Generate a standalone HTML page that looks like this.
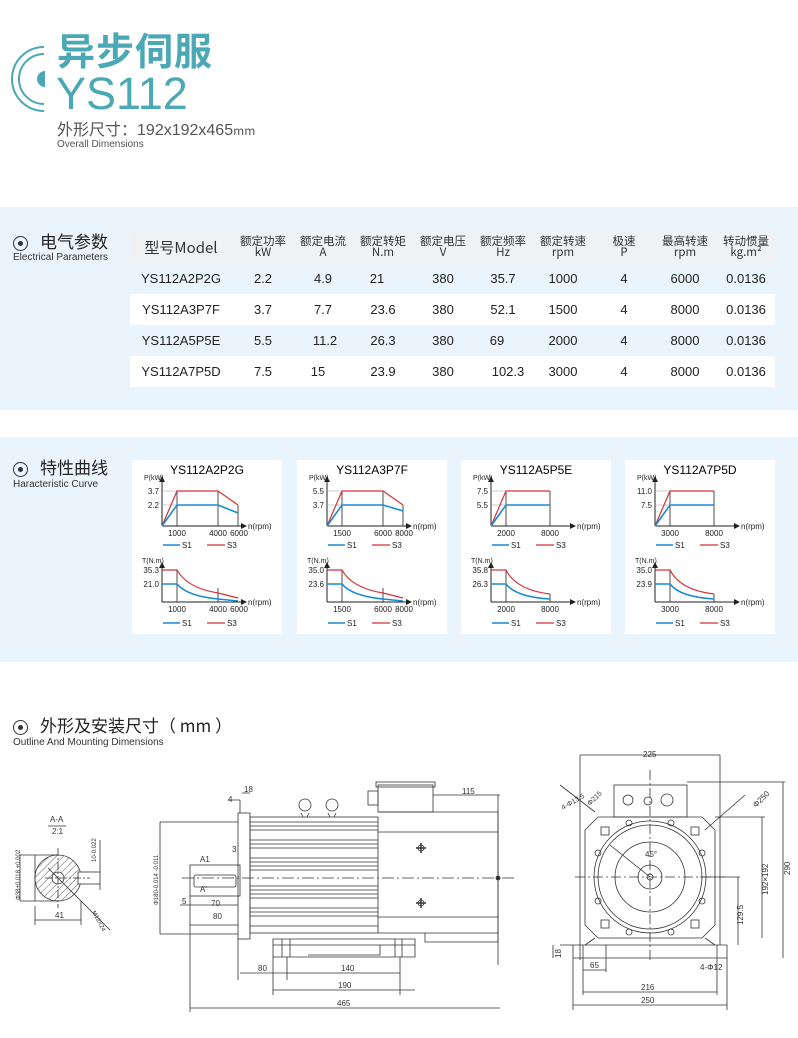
<!DOCTYPE html>
<html><head><meta charset="utf-8">
<style>
*{margin:0;padding:0;box-sizing:border-box}
body{width:798px;height:1038px;background:#fff;position:relative;overflow:hidden;font-family:"Liberation Sans","Noto Sans CJK SC",sans-serif;color:#222}
.a{position:absolute;white-space:nowrap}
.band{position:absolute;left:0;width:798px;background:#e9f4fc}
.cjk{font-family:"Noto Sans CJK SC","Liberation Sans",sans-serif}
.row{position:absolute;left:130px;width:645px;height:31px;font-size:13px;color:#222}
.row span,.hd span{position:absolute;text-align:center;transform:translateX(-50%);white-space:nowrap}
.hd{position:absolute;left:130px;top:232px;width:645px;height:31px;background:#eff1f3;font-size:11.5px;line-height:11px;color:#333}
.card{position:absolute;top:460px;width:150px;height:174px;background:#fff}
.icon{position:absolute;width:15px;height:15px;border:1.6px solid #333;border-radius:50%}
.icon:after{content:"";position:absolute;left:3.5px;top:3.5px;width:5px;height:5px;border-radius:50%;background:#333}
</style></head><body>

<!-- title -->
<svg class="a" style="left:0;top:0" width="60" height="120"><path d="M44 47 A32 32 0 0 0 44 111" fill="none" stroke="#4ba8b5" stroke-width="2"/><path d="M44 54 A25 25 0 0 0 44 104" fill="none" stroke="#4ba8b5" stroke-width="2"/><path d="M45 71 A8 8 0 0 0 45 87 Z" fill="#4ba8b5"/></svg>
<div class="a cjk" style="left:57px;top:25px;font-size:38px;font-weight:bold;color:#4ba8b5;letter-spacing:1px;line-height:48px">异步伺服</div>
<div class="a" style="left:56px;top:70px;font-size:45px;color:#4ba8b5;line-height:48px">YS112</div>
<div class="a cjk" style="left:57px;top:117px;font-size:16px;color:#555;line-height:22px">外形尺寸：<span style="font-family:'Liberation Sans'">192x192x465</span><span style="font-size:12px">mm</span></div>
<div class="a" style="left:57px;top:139px;font-size:10px;color:#555">Overall Dimensions</div>

<!-- section 1 -->
<div class="band" style="top:207px;height:203px"></div>
<div class="icon" style="left:13px;top:236px"></div>
<div class="a cjk" style="left:40px;top:229px;font-size:17px;line-height:24px">电气参数</div>
<div class="a" style="left:13px;top:252px;font-size:10px;color:#333">Electrical Parameters</div>
<div class="hd cjk">
<span style="left:51px;top:8px;font-size:15px;line-height:16px">型号Model</span>
<span style="left:133px;top:4px">额定功率<br>kW</span>
<span style="left:193px;top:4px">额定电流<br>A</span>
<span style="left:253px;top:4px">额定转矩<br>N.m</span>
<span style="left:313px;top:4px">额定电压<br>V</span>
<span style="left:373px;top:4px">额定频率<br>Hz</span>
<span style="left:433px;top:4px">额定转速<br>rpm</span>
<span style="left:494px;top:4px">极速<br>P</span>
<span style="left:555px;top:4px">最高转速<br>rpm</span>
<span style="left:616px;top:4px">转动惯量<br>kg.m²</span>
</div>
<div class="row" style="top:263px;background:#e9f4fc"><span style="left:51px;top:8px">YS112A2P2G</span><span style="left:133px;top:8px">2.2</span><span style="left:193px;top:8px">4.9</span><span style="left:247px;top:8px">21</span><span style="left:313px;top:8px">380</span><span style="left:373px;top:8px">35.7</span><span style="left:433px;top:8px">1000</span><span style="left:494px;top:8px">4</span><span style="left:555px;top:8px">6000</span><span style="left:616px;top:8px">0.0136</span></div>
<div class="row" style="top:294px;background:#fff"><span style="left:51px;top:8px">YS112A3P7F</span><span style="left:133px;top:8px">3.7</span><span style="left:193px;top:8px">7.7</span><span style="left:253px;top:8px">23.6</span><span style="left:313px;top:8px">380</span><span style="left:373px;top:8px">52.1</span><span style="left:433px;top:8px">1500</span><span style="left:494px;top:8px">4</span><span style="left:555px;top:8px">8000</span><span style="left:616px;top:8px">0.0136</span></div>
<div class="row" style="top:325px;background:#e9f4fc"><span style="left:51px;top:8px">YS112A5P5E</span><span style="left:133px;top:8px">5.5</span><span style="left:195px;top:8px">11.2</span><span style="left:253px;top:8px">26.3</span><span style="left:313px;top:8px">380</span><span style="left:367px;top:8px">69</span><span style="left:433px;top:8px">2000</span><span style="left:494px;top:8px">4</span><span style="left:555px;top:8px">8000</span><span style="left:616px;top:8px">0.0136</span></div>
<div class="row" style="top:356px;background:#fff"><span style="left:51px;top:8px">YS112A7P5D</span><span style="left:133px;top:8px">7.5</span><span style="left:188px;top:8px">15</span><span style="left:253px;top:8px">23.9</span><span style="left:313px;top:8px">380</span><span style="left:378px;top:8px">102.3</span><span style="left:433px;top:8px">3000</span><span style="left:494px;top:8px">4</span><span style="left:555px;top:8px">8000</span><span style="left:616px;top:8px">0.0136</span></div>

<!-- section 2 -->
<div class="band" style="top:437px;height:225px"></div>
<div class="icon" style="left:13px;top:462px"></div>
<div class="a cjk" style="left:40px;top:455px;font-size:17px;line-height:24px">特性曲线</div>
<div class="a" style="left:13px;top:479px;font-size:10px;color:#333">Haracteristic Curve</div>
<div class="card" style="left:132px"></div>
<div class="card" style="left:297px"></div>
<div class="card" style="left:461px"></div>
<div class="card" style="left:625px"></div>

<!-- section 3 -->
<div class="icon" style="left:13px;top:720px"></div>
<div class="a cjk" style="left:40px;top:713px;font-size:17px;line-height:24px">外形及安装尺寸（ mm ）</div>
<div class="a" style="left:13px;top:737px;font-size:10px;color:#333">Outline And Mounting Dimensions</div>

<svg class="a" style="left:0;top:0" width="798" height="1038" font-family="Liberation Sans, sans-serif">
<defs>
<marker id="ar" markerWidth="6" markerHeight="6" refX="5" refY="3" orient="auto"><path d="M0 0L6 3L0 6Z" fill="#222"/></marker>
<g id="axes" stroke="#222" stroke-width="1" fill="none">
<path d="M30 66V17" marker-end="url(#ar)"/><path d="M30 66H114" marker-end="url(#ar)"/>
<path d="M30 142V103" marker-end="url(#ar)"/><path d="M30 142H114" marker-end="url(#ar)"/>
</g>
<g id="leg" font-size="8" fill="#222">
<line x1="31" y1="85" x2="48" y2="85" stroke="#1a8ad4" stroke-width="1.6"/><text x="50" y="88">S1</text>
<line x1="75" y1="85" x2="93" y2="85" stroke="#d6323a" stroke-width="1.2"/><text x="95" y="88">S3</text>
<line x1="31" y1="163" x2="48" y2="163" stroke="#1a8ad4" stroke-width="1.6"/><text x="50" y="166">S1</text>
<line x1="75" y1="163" x2="93" y2="163" stroke="#d6323a" stroke-width="1.2"/><text x="95" y="166">S3</text>
<text x="116" y="69">n(rpm)</text><text x="116" y="145">n(rpm)</text>
<text x="12" y="20" font-size="7">P(kW)</text><text x="10" y="103" font-size="7">T(N.m)</text>
</g>
</defs>

<g transform="translate(132,460)">
<text x="75" y="14" font-size="12" text-anchor="middle">YS112A2P2G</text>
<use href="#axes"/><use href="#leg"/>
<g stroke="#999" stroke-width=".6"><path d="M30 31H45M30 45H45M30 110H45M30 124H45"/></g>
<g stroke="#222" stroke-width=".8"><path d="M45 31V66M86 31V66M106 45V66M45 110V142M86 128V142"/></g>
<path d="M30 66L45 31H86L106 45" fill="none" stroke="#d6323a" stroke-width="1.2"/>
<path d="M30 66L45 45H86L106 53" fill="none" stroke="#1a8ad4" stroke-width="1.6"/>
<path d="M30 110H45Q55 128 86 133L106 138" fill="none" stroke="#d6323a" stroke-width="1.2"/>
<path d="M30 124H45Q55 136 86 139L106 141" fill="none" stroke="#1a8ad4" stroke-width="1.6"/>
<g font-size="8" fill="#222"><text x="27" y="34" text-anchor="end">3.7</text><text x="27" y="48" text-anchor="end">2.2</text><text x="27" y="113" text-anchor="end">35.3</text><text x="27" y="127" text-anchor="end">21.0</text>
<text x="45" y="76" text-anchor="middle">1000</text><text x="86" y="76" text-anchor="middle">4000</text><text x="107" y="76" text-anchor="middle">6000</text>
<text x="45" y="152" text-anchor="middle">1000</text><text x="86" y="152" text-anchor="middle">4000</text><text x="107" y="152" text-anchor="middle">6000</text></g>
</g>
<g transform="translate(297,460)">
<text x="75" y="14" font-size="12" text-anchor="middle">YS112A3P7F</text>
<use href="#axes"/><use href="#leg"/>
<g stroke="#999" stroke-width=".6"><path d="M30 31H45M30 45H45M30 110H45M30 124H45"/></g>
<g stroke="#222" stroke-width=".8"><path d="M45 31V66M86 31V66M106 45V66M45 110V142M86 128V142"/></g>
<path d="M30 66L45 31H86L106 45" fill="none" stroke="#d6323a" stroke-width="1.2"/>
<path d="M30 66L45 45H86L106 51" fill="none" stroke="#1a8ad4" stroke-width="1.6"/>
<path d="M30 110H45Q55 128 86 133L106 138" fill="none" stroke="#d6323a" stroke-width="1.2"/>
<path d="M30 124H45Q55 136 86 139L106 141" fill="none" stroke="#1a8ad4" stroke-width="1.6"/>
<g font-size="8" fill="#222"><text x="27" y="34" text-anchor="end">5.5</text><text x="27" y="48" text-anchor="end">3.7</text><text x="27" y="113" text-anchor="end">35.0</text><text x="27" y="127" text-anchor="end">23.6</text>
<text x="45" y="76" text-anchor="middle">1500</text><text x="86" y="76" text-anchor="middle">6000</text><text x="107" y="76" text-anchor="middle">8000</text>
<text x="45" y="152" text-anchor="middle">1500</text><text x="86" y="152" text-anchor="middle">6000</text><text x="107" y="152" text-anchor="middle">8000</text></g>
</g>
<g transform="translate(461,460)">
<text x="75" y="14" font-size="12" text-anchor="middle">YS112A5P5E</text>
<use href="#axes"/><use href="#leg"/>
<g stroke="#999" stroke-width=".6"><path d="M30 31H45M30 45H45M30 110H45M30 124H45"/></g>
<g stroke="#222" stroke-width=".8"><path d="M45 31V66M89 31V66M45 110V142M89 134V142"/></g>
<path d="M30 66L45 31H89" fill="none" stroke="#d6323a" stroke-width="1.2"/>
<path d="M30 66L45 45H89" fill="none" stroke="#1a8ad4" stroke-width="1.6"/>
<path d="M30 110H45Q55 130 89 134" fill="none" stroke="#d6323a" stroke-width="1.2"/>
<path d="M30 124H45Q55 137 89 139" fill="none" stroke="#1a8ad4" stroke-width="1.6"/>
<g font-size="8" fill="#222"><text x="27" y="34" text-anchor="end">7.5</text><text x="27" y="48" text-anchor="end">5.5</text><text x="27" y="113" text-anchor="end">35.8</text><text x="27" y="127" text-anchor="end">26.3</text>
<text x="45" y="76" text-anchor="middle">2000</text><text x="89" y="76" text-anchor="middle">8000</text>
<text x="45" y="152" text-anchor="middle">2000</text><text x="89" y="152" text-anchor="middle">8000</text></g>
</g>
<g transform="translate(625,460)">
<text x="75" y="14" font-size="12" text-anchor="middle">YS112A7P5D</text>
<use href="#axes"/><use href="#leg"/>
<g stroke="#999" stroke-width=".6"><path d="M30 31H45M30 45H45M30 110H45M30 124H45"/></g>
<g stroke="#222" stroke-width=".8"><path d="M45 31V66M89 31V66M45 110V142M89 134V142"/></g>
<path d="M30 66L45 31H89" fill="none" stroke="#d6323a" stroke-width="1.2"/>
<path d="M30 66L45 45H89" fill="none" stroke="#1a8ad4" stroke-width="1.6"/>
<path d="M30 110H45Q55 130 89 134" fill="none" stroke="#d6323a" stroke-width="1.2"/>
<path d="M30 124H45Q55 137 89 139" fill="none" stroke="#1a8ad4" stroke-width="1.6"/>
<g font-size="8" fill="#222"><text x="27" y="34" text-anchor="end">11.0</text><text x="27" y="48" text-anchor="end">7.5</text><text x="27" y="113" text-anchor="end">35.0</text><text x="27" y="127" text-anchor="end">23.9</text>
<text x="45" y="76" text-anchor="middle">3000</text><text x="89" y="76" text-anchor="middle">8000</text>
<text x="45" y="152" text-anchor="middle">3000</text><text x="89" y="152" text-anchor="middle">8000</text></g>
</g>

<defs><pattern id="hatch" width="5" height="5" patternUnits="userSpaceOnUse" patternTransform="rotate(45)"><line x1="0" y1="0" x2="0" y2="5" stroke="#333" stroke-width=".8"/></pattern></defs>
<g stroke="#333" stroke-width=".8" fill="none" font-size="8">
<text x="50" y="822" fill="#333" stroke="none">A-A</text><line x1="48" y1="826" x2="66" y2="826"/><text x="52" y="834" fill="#333" stroke="none">2:1</text>
<circle cx="58" cy="878" r="23" fill="url(#hatch)"/><circle cx="58" cy="878" r="6" fill="#fff"/>
<rect x="78" y="872" width="22" height="12" fill="#fff"/>
<path d="M45 878H90M58 848V908" stroke-dasharray="8 2 2 2"/>
<path d="M20 855H58M20 901H58M20 855V901M35 855V901M35 906V925M81 901V925M35 920H81M100 840V872M100 884V890M48 868L110 930"/>
<text x="55" y="918" fill="#333" stroke="none">41</text>
<text x="20" y="900" fill="#333" stroke="none" font-size="6" transform="rotate(-90 20 900)">Φ38+0.018 +0.002</text>
<text x="96" y="862" fill="#333" stroke="none" font-size="6" transform="rotate(-90 96 862)">10-0.022</text>
<text x="92" y="912" fill="#333" stroke="none" font-size="6" transform="rotate(62 92 912)">M12X24</text>
<rect x="190" y="865" width="50" height="31"/><rect x="194" y="875" width="42" height="12" rx="2"/>
<rect x="238" y="813" width="12" height="126"/>
<rect x="250" y="817" width="128" height="116"/>
<path d="M250 822H378M250 826H378M250 830H378M250 840H378M250 844H378M250 848H378M250 858H378M250 862H378M250 866H378M250 870H378M250 886H378M250 890H378M250 894H378M250 898H378M250 908H378M250 912H378M250 916H378M250 926H378"/>
<path d="M378 812H498V933H378M425 933V942H498V933M378 832H498M378 917H498"/>
<rect x="378" y="785" width="55" height="27"/><rect x="376" y="782" width="59" height="5"/>
<rect x="368" y="791" width="10" height="14"/>
<circle cx="305" cy="805" r="6"/><circle cx="332" cy="805" r="6"/><path d="M301 813L303 817M309 813L307 817M328 813L330 817M336 813L334 817"/>
<path d="M273 939H415V957H273ZM273 945H415M282 939V957M290 939V957M402 939V957M395 939V957M308 945H380V955H308"/>
<path d="M182 878H515" stroke-dasharray="12 3 2 3"/>
<circle cx="498" cy="878" r="2" fill="#333"/>
<path d="M416 848h10M421 843v10M416 903h10M421 898v10" stroke-width="1.5"/>
<circle cx="421" cy="848" r="3"/><circle cx="421" cy="903" r="3"/>
<path d="M160 822H238M160 934H238M160 822V934M433 795H500M498 795V965M190 896V1012M238 939V980M287 957V980M400 957V995M273 957V995M240 973H400M273 990H415M190 1008H500M180 905H238M190 925H238M228 800H240M240 800V813M242 793H250"/>
<g fill="#333" stroke="none"><text x="462" y="794">115</text><text x="244" y="792">18</text><text x="228" y="802">4</text><text x="232" y="852">3</text><text x="200" y="862">A1</text><text x="200" y="892">A'</text><text x="211" y="906">70</text><text x="213" y="919">80</text><text x="182" y="904">5</text><text x="258" y="971">80</text><text x="341" y="971">140</text><text x="338" y="988">190</text><text x="337" y="1006">465</text>
<text x="158" y="905" font-size="6" transform="rotate(-90 158 905)">Φ180-0.014 -0.011</text></g>
<path d="M598 817H702L715 830V925L702 938H598L585 925V830Z"/>
<rect x="614" y="785" width="73" height="32"/>
<path d="M573 945H727V958H573ZM595 938L585 945M705 938L715 945"/>
<circle cx="650" cy="877" r="56"/><circle cx="650" cy="877" r="52"/><circle cx="650" cy="877" r="35"/><circle cx="650" cy="877" r="12"/><circle cx="650" cy="877" r="3"/>
<circle cx="628" cy="800" r="5"/><circle cx="648" cy="801" r="4"/><circle cx="667" cy="800" r="6"/>
<g><circle cx="629" cy="823" r="3"/><circle cx="671" cy="823" r="3"/><circle cx="598" cy="853" r="3"/><circle cx="702" cy="853" r="3"/><circle cx="598" cy="901" r="3"/><circle cx="702" cy="901" r="3"/><circle cx="629" cy="932" r="3"/><circle cx="671" cy="932" r="3"/></g>
<rect x="601" y="827" width="8" height="8"/><rect x="691" y="827" width="8" height="8"/><rect x="601" y="920" width="8" height="8"/><rect x="691" y="920" width="8" height="8"/>
<path d="M575 877H725M650 770V960" stroke-dasharray="10 3 2 3"/>
<path d="M580 755H720M580 755V960M720 755V945M687 782H785M783 782V958M715 817H765M762 817V938M700 877H740M738 877V945M583 945V995M717 945V995M583 992H717M573 958V1010M727 958V1010M573 1005H727M553 945V958M560 945H573M606 945V972M583 970H606M595 812L560 785M705 830L745 795M610 845L650 877"/>
<g fill="#333" stroke="none"><text x="643" y="757">225</text><text x="641" y="990">216</text><text x="641" y="1003">250</text><text x="590" y="968">65</text><text x="700" y="970">4-Φ12</text>
<text x="561" y="958" transform="rotate(-90 561 958)">18</text>
<text x="790" y="875" transform="rotate(-90 790 875)">290</text>
<text x="768" y="895" transform="rotate(-90 768 895)">192×192</text>
<text x="743" y="925" transform="rotate(-90 743 925)">129.5</text>
<text x="756" y="808" transform="rotate(-45 756 808)">Φ250</text>
<text x="563" y="810" font-size="7" transform="rotate(-30 563 810)">4-Φ13.5</text>
<text x="590" y="806" font-size="7" transform="rotate(-45 590 806)">Φ215</text>
<text x="645" y="857">45°</text></g>
</g>
</svg>
</body></html>
